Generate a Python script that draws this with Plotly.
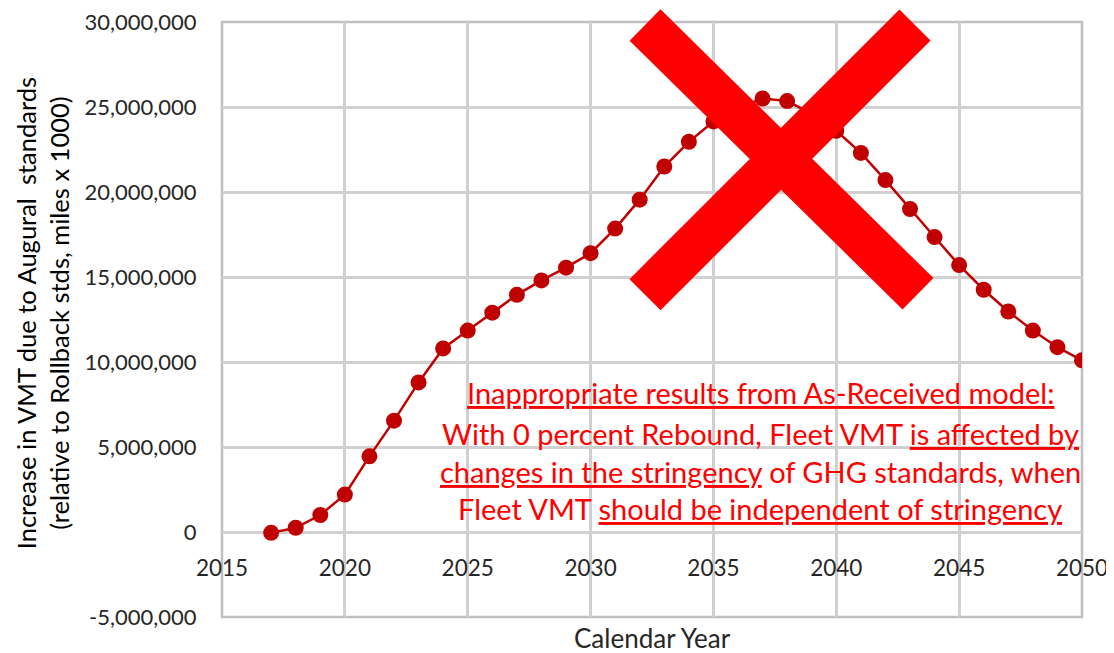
import plotly.graph_objects as go

years = list(range(2017, 2051))
vmt_increase = [
    -50000, 250000, 1000000, 2200000, 4450000, 6550000, 8800000, 10800000,
    11850000, 12900000, 13950000, 14800000, 15550000, 16400000, 17850000,
    19550000, 21500000, 22950000, 24150000, 24950000, 25500000, 25350000,
    24600000, 23600000, 22300000, 20700000, 19000000, 17350000, 15700000,
    14250000, 12970000, 11850000, 10870000, 10100000,
]

y_tick_vals = [-5e6, 0, 5e6, 10e6, 15e6, 20e6, 25e6, 30e6]
y_tick_text = ["-5,000,000", "0", "5,000,000", "10,000,000", "15,000,000",
               "20,000,000", "25,000,000", "30,000,000"]
x_tick_vals = [2015, 2020, 2025, 2030, 2035, 2040, 2045, 2050]

note_lines = [
    "<u>Inappropriate results from As-Received model:</u>",
    "With 0 percent Rebound, Fleet VMT <u>is affected by</u>",
    "<u>changes in the stringency</u> of GHG standards, when",
    "Fleet VMT <u>should be independent of stringency</u>",
]
note_y = [0.378, 0.308, 0.245, 0.182]

# page body has an 8px margin; compensate so the plot area lands near 222..1082 x 22..617
W, H = 1106, 645
L, R, T, B = 214, 32, 14, 36
FONT = "Lato"
grid_c = "#D0D0D0"
red_d = "#C00000"

fig = go.Figure()
fig.add_trace(go.Scatter(
    x=years, y=vmt_increase, mode="lines+markers",
    line=dict(color=red_d, width=2.5),
    marker=dict(color=red_d, size=16),
    showlegend=False, hoverinfo="skip",
))

shapes = [
    dict(type="rect", xref="paper", yref="paper", x0=0, y0=0, x1=1, y1=1,
         line=dict(color="#C0C0C0", width=2.5), layer="below"),
    dict(type="line", xref="paper", yref="paper", x0=0.4919, y0=0.995,
         x1=0.8093, y1=0.5433, line=dict(color="#FF0000", width=44)),
    dict(type="line", xref="paper", yref="paper", x0=0.8058, y0=0.995,
         x1=0.4919, y1=0.5417, line=dict(color="#FF0000", width=44)),
]

annotations = []
for txt, yy in zip(note_lines, note_y):
    annotations.append(dict(
        text=txt, xref="paper", yref="paper", x=0.6256, y=yy,
        xanchor="center", yanchor="middle", showarrow=False,
        font=dict(family=FONT, size=29, color="#FF0000"),
    ))
annotations.append(dict(
    text="Increase in VMT due to Augural  standards<br>(relative to Rollback stds, miles x 1000)",
    xref="paper", yref="paper", x=-0.2085, y=0.51, textangle=-90,
    xanchor="center", yanchor="middle", showarrow=False,
    font=dict(family=FONT, size=25.5, color="#000000"),
))
annotations.append(dict(
    text="Calendar Year", xref="paper", yref="paper", x=0.5, y=-0.035,
    xanchor="center", yanchor="middle", showarrow=False,
    font=dict(family=FONT, size=26, color="#262626"),
))

fig.update_layout(
    width=W, height=H,
    margin=dict(l=L, r=R, t=T, b=B, pad=0, autoexpand=False),
    paper_bgcolor="white", plot_bgcolor="white",
    shapes=shapes, annotations=annotations,
    xaxis=dict(
        range=[2015, 2050], tickvals=x_tick_vals,
        showgrid=True, gridcolor=grid_c, gridwidth=2.5,
        zeroline=False, showline=False, automargin=False,
        anchor="free", position=(0 - (-5e6)) / 35e6,
        ticks="outside", ticklen=16, tickcolor="rgba(0,0,0,0)",
        ticklabeloverflow="allow",
        tickfont=dict(family=FONT, size=22.5, color="#262626"),
    ),
    yaxis=dict(
        range=[-5e6, 30e6], tickvals=y_tick_vals, ticktext=y_tick_text,
        showgrid=True, gridcolor=grid_c, gridwidth=2.5,
        zeroline=True, zerolinecolor=grid_c, zerolinewidth=2.5,
        showline=False, automargin=False,
        ticks="outside", ticklen=20, tickcolor="rgba(0,0,0,0)",
        ticklabeloverflow="allow",
        tickfont=dict(family=FONT, size=22, color="#262626"),
    ),
)

fig.write_html("out.html")
